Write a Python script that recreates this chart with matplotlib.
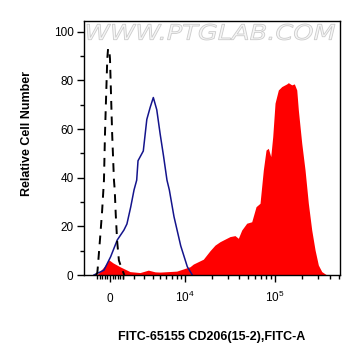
import matplotlib
matplotlib.use('Agg')
import matplotlib.pyplot as plt
from matplotlib.textpath import TextPath
from matplotlib.patches import PathPatch
from matplotlib.font_manager import FontProperties
from matplotlib.transforms import Affine2D

plt.rcParams['font.family'] = ['Liberation Sans', 'DejaVu Sans']
plt.rcParams['mathtext.default'] = 'regular'

# isotype / unstained control (dashed black)
ctrl_x = [-1100, -1000, -950, -780, -620, -470, -390, -310, -210, -150,
          -60, 0, 170, 310, 370, 450, 560, 700, 900, 1140]
ctrl_y = [0, 1, 4, 15, 26, 39, 58, 72, 89, 93,
          93, 89, 58, 39, 35, 25, 14, 6, 3, 0]

# blue outline histogram
blue_x = [-1280, -470, 50, 570, 1110, 1360, 1690, 1990, 2240, 2370,
          2910, 3300, 3700, 4090, 4550, 5040, 5560, 6140, 6560, 7460,
          8950, 10660, 12150]
blue_y = [0, 2, 7.5, 14.4, 18.5, 21, 28, 35, 39, 47,
          51, 64, 69, 73, 68, 58, 49, 39, 35, 24,
          12, 3.4, 0]

# red filled histogram (FITC-65155 CD206)
red_x = [-1340, -950, -469, -80, 234, 787, 1624, 2565, 3471, 4311,
         5035, 8033, 11440, 12470, 16160, 19190, 21810, 24770, 26950,
         31960, 36280, 39470, 43020, 48830, 55420, 61820, 68380, 74350,
         79640, 84400, 89700, 94310, 100000, 108700, 118500, 134500,
         140000, 152600, 163000, 173200, 180300, 196500, 213600, 232200,
         253000, 275200, 299100, 326000, 369900]
red_y = [0, 0.5, 3.4, 6.2, 5.0, 3.4, 1.4, 1.0, 2.0, 1.3,
         1.2, 1.6, 3.4, 4.5, 6.5, 10, 12.3, 13.7, 14.4,
         15.8, 16.2, 15.1, 18.5, 21.3, 21.9, 28.1, 29.5, 43.2,
         51.4, 52.1, 48.7, 56.9, 70.7, 76.1, 77.5, 78.6,
         79.1, 78.2, 78.6, 76.1, 67.9, 54.2, 43.2, 29.5,
         18.5, 10.3, 4.1, 1.4, 0]

major_ticks = [0, 1e4, 1e5]
major_labels = ['0', '$10^4$', '$10^5$']
minor_ticks = ([v for v in range(-1000, 1001, 200)] +
               [k * 1000 for k in range(1, 10)] +
               [k * 10000 for k in range(2, 10)] +
               [k * 100000 for k in range(2, 6)])

fig = plt.figure(figsize=(3.61, 3.56), dpi=100)
ax = fig.add_axes([0.2327, 0.2275, 0.7091, 0.7144])
ax.set_xscale('asinh', linear_width=3077)

ax.fill_between(red_x, red_y, 0, color='#ff0000', lw=0, zorder=1)
ax.plot(blue_x, blue_y, color='#14148c', lw=1.1, zorder=2)
ax.plot(ctrl_x, ctrl_y, color='black', lw=1.4, dashes=(4.5, 3.5), zorder=3)

ax.set_xlim(-2170, 517000)
ax.set_ylim(0, 104.6)

ax.set_xticks(major_ticks)
ax.set_xticklabels(major_labels)
ax.set_xticks(minor_ticks, minor=True)
ax.set_yticks([0, 20, 40, 60, 80, 100])
ax.set_yticks([10, 30, 50, 70, 90], minor=True)

ax.tick_params(axis='both', which='major', direction='out', length=5,
               width=1, labelsize=8.5, color='black')
ax.tick_params(axis='both', which='minor', direction='out', length=3,
               width=1, color='black')
ax.tick_params(axis='x', which='major', pad=14.5)
ax.tick_params(axis='y', which='major', pad=2.5)
for lab in ax.get_xticklabels():
    lab.set_verticalalignment('baseline')

for sp in ax.spines.values():
    sp.set_linewidth(1.0)
    sp.set_color('black')

ax.set_xlabel('FITC-65155 CD206(15-2),FITC-A', fontsize=9, fontweight='bold')
ax.xaxis.set_label_coords(0.5, -0.22)
ax.set_ylabel('Relative Cell Number', fontsize=9, fontweight='bold')
ax.yaxis.set_label_coords(-0.20, 0.555)

# watermark
fp = FontProperties(family='DejaVu Sans', style='oblique')
tp = TextPath((0, 0), 'WWW.PTGLAB.COM', size=10, prop=fp)
ext = tp.get_extents()
x0, x1, y0, y1 = 87, 335, 356 - 40, 356 - 24
sx = (x1 - x0) / ext.width
sy = (y1 - y0) / ext.height
tr = Affine2D().translate(-ext.x0, -ext.y0).scale(sx, sy).translate(x0, y0)
wm = PathPatch(tr.transform_path(tp), facecolor='#f6f6f6', edgecolor='#cbcbcb',
               lw=0.6, transform=None, zorder=5)
fig.patches.append(wm)
wm.set_figure(fig)

plt.savefig('out.png', dpi=100)
